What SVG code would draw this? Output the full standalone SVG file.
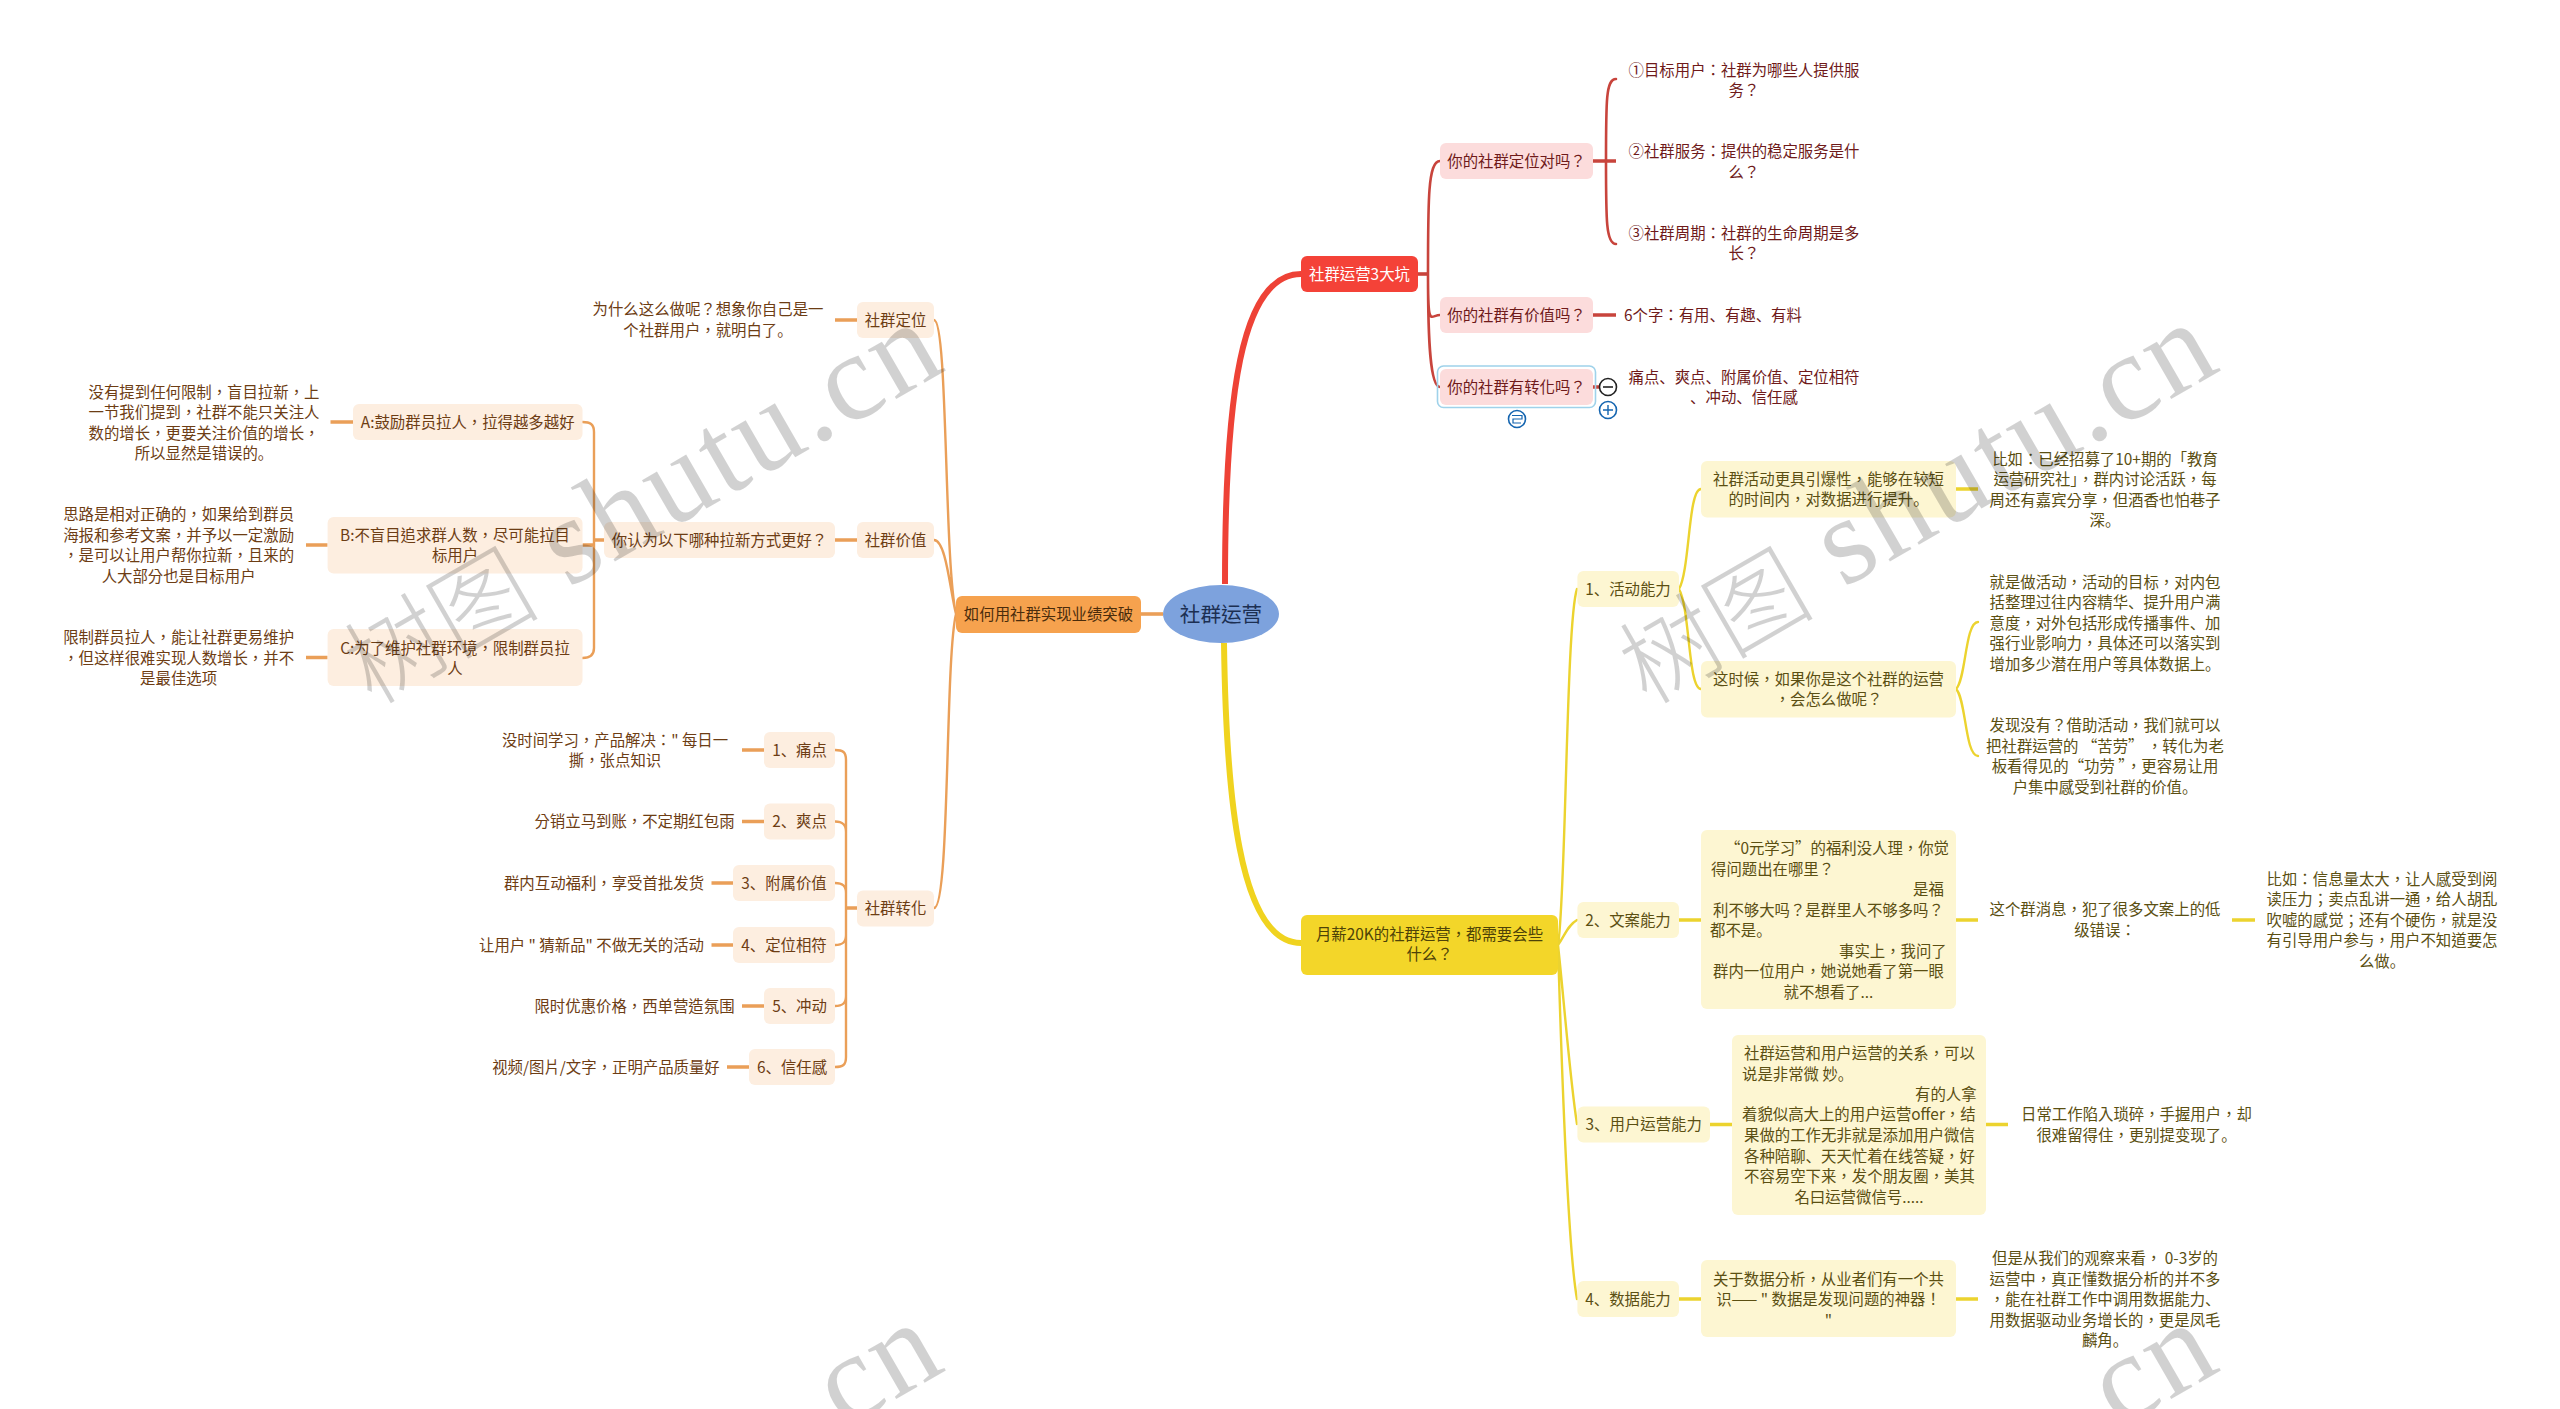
<svg xmlns="http://www.w3.org/2000/svg" width="2560" height="1409" viewBox="0 0 2560 1409">
<style>
text{font-family:"Noto Sans CJK TC","Noto Sans CJK SC","Noto Sans",sans-serif;font-size:15.4px;dominant-baseline:central}
text:not(.wm):not(.wc){transform:translateY(-1.4px)}
.s{font-family:"Noto Sans CJK SC","Noto Sans",sans-serif}
.m{text-anchor:middle}
.r{fill:#6f1a1a}.o{fill:#6d3d14}.y{fill:#5b4f12}
.br{fill:#fcdcdc}.bo{fill:#fdeee0}.by{fill:#fdf6d2}
.cr,.co,.cy{fill:none;stroke-linecap:round}
.cr{stroke:#c8443c;stroke-width:2.6}.co{stroke:#ea9f58;stroke-width:2.4}.cy{stroke:#ecd32f;stroke-width:2.4}
.t{stroke-width:3.6;stroke-linecap:butt}
.wm{fill:#000;fill-opacity:.18;font-family:"Liberation Serif",serif;font-size:124px;letter-spacing:3px;dominant-baseline:auto;text-anchor:end}
.wc{fill:#000;fill-opacity:.18;font-family:"Noto Sans CJK SC",sans-serif;font-size:98px;font-weight:300;dominant-baseline:auto}
.ic{fill:#fff;stroke:#1565b0;stroke-width:1.6}
</style>
<rect width="2560" height="1409" fill="#fff"/>
<g id="connectors">
<path d="M1225 584C1225 400 1240 274 1301 274" fill="none" stroke="#ee4236" stroke-width="6"/>
<path d="M1224 643C1226 790 1238 943 1301 943" fill="none" stroke="#f0d31f" stroke-width="6"/>
<path class="co t" d="M1141 614H1163"/>
<path class="cr t" d="M1418 274H1428"/>
<path class="cr" d="M1428 274C1428 200 1428 161 1440 161M1428 274C1428 330 1430 315 1440 315M1428 274C1428 340 1430 387 1440 387"/>
<path class="cr t" d="M1593 161H1616M1593 315H1616M1593 387H1600"/>
<path class="cr" d="M1606 161C1606 100 1606 79 1616 79M1606 161C1606 220 1606 244 1616 244"/>
<path class="co" d="M956 614C944 560 948 320 934 320M956 614C950 590 946 540 934 540M956 614C945 660 950 908 934 908"/>
<path class="co t" d="M835 320H857M835 540H857M582.5 545H594M594 540H604M330.5 422H353M306 545H327.6M306 657.5H327.6M846 908H857"/>
<path class="co t" d="M742 750H764M742 821.5H764M711.5 883H733M711.5 945H733M742 1006H764M727 1067H749"/>
<path class="co" d="M582.5 422C590 422 594 424 594 432V648C594 655 590 658 582.5 658"/>
<path class="co" d="M835 750C843 750 846 752 846 760V1057C846 1065 843 1067 835 1067M835 821.5C843 821.5 846 825 846 832M835 883C843 883 846 886 846 893M835 945C843 945 846 942 846 935M835 1006C843 1006 846 1003 846 996"/>
<path class="cy" d="M1558 945C1566 900 1566 620 1577 589M1558 945C1565 935 1568 925 1577 920M1558 945C1564 1000 1570 1080 1577 1124M1558 945C1562 1080 1568 1250 1577 1299"/>
<path class="cy" d="M1679 589C1690 570 1688 489 1701 489M1679 589C1690 608 1688 689 1701 689M1956 689C1966 680 1965 622 1978 622M1956 689C1966 698 1965 756 1978 756"/>
<path class="cy t" d="M1956 489H1978M1679 920H1701M1956 920H1978M2232 920H2255M1710 1124.5H1732M1986 1124.5H2008M1679 1299H1701M1956 1299H1978"/>
</g>
<g id="root"><ellipse cx="1221" cy="614" rx="58" ry="29" fill="#7da2dd"/><text class="m" x="1221" y="614" style="font-size:20.6px;fill:#1c2f52">社群运营</text></g>
<g id="red-main"><rect x="1301" y="256" width="117" height="36" rx="6" fill="#f44238"/><text class="m" x="1359.5" y="274" fill="#fff">社群运营3大坑</text></g>
<g id="q1"><rect class="br" x="1440" y="143" width="153" height="36" rx="6"/><text class="m r" x="1516.5" y="161">你的社群定位对吗？</text></g>
<g id="q2"><rect class="br" x="1440" y="297" width="153" height="36" rx="6"/><text class="m r" x="1516.5" y="315">你的社群有价值吗？</text></g>
<g id="q3"><rect x="1437.5" y="366" width="158" height="41.500" rx="6" fill="none" stroke="#9fd2ea" stroke-width="1.6"/><rect class="br" x="1440" y="369" width="153" height="36" rx="6"/><text class="m r" x="1516.5" y="387">你的社群有转化吗？</text></g>
<g id="icon-minus"><circle cx="1608" cy="387" r="8.500" fill="#fff" stroke="#222" stroke-width="1.6"/><path d="M1603 387H1613" stroke="#222" stroke-width="1.6"/></g>
<g id="icon-plus"><circle class="ic" cx="1608" cy="410" r="8.500"/><path d="M1603 410H1613M1608 405V415" stroke="#1565b0" stroke-width="1.4"/></g>
<g id="icon-note"><circle class="ic" cx="1517" cy="419" r="8.500"/><path d="M1512 415.500H1522V419H1513V423H1521" fill="none" stroke="#1565b0" stroke-width="1.2"/></g>
<g id="r1"><text class="m r" x="1744" y="70">①目标用户：社群为哪些人提供服</text><text class="m r" x="1744" y="90">务？</text></g>
<g id="r2"><text class="m r" x="1744" y="151.500">②社群服务：提供的稳定服务是什</text><text class="m r" x="1744" y="172">么？</text></g>
<g id="r3"><text class="m r" x="1744" y="233">③社群周期：社群的生命周期是多</text><text class="m r" x="1744" y="253.500">长？</text></g>
<g id="r4"><text class="r" x="1624" y="315">6个字：有用<tspan class="s">、</tspan>有趣<tspan class="s">、</tspan>有料</text></g>
<g id="r5"><text class="m r" x="1744" y="377">痛点<tspan class="s">、</tspan>爽点<tspan class="s">、</tspan>附属价值<tspan class="s">、</tspan>定位相符</text><text class="m r" x="1744" y="397.500"><tspan class="s">、</tspan>冲动<tspan class="s">、</tspan>信任感</text></g>

<g id="orange-main"><rect x="956" y="596" width="185" height="37" rx="6" fill="#f6a24e"/><text class="m" x="1048.500" y="614" fill="#4a2c0c">如何用社群实现业绩突破</text></g>
<g id="o1"><rect class="bo" x="857" y="302" width="77" height="36" rx="6"/><text class="m o" x="895.500" y="320">社群定位</text></g>
<g id="o1a"><text class="m o" x="708" y="309">为什么这么做呢？想象你自己是一</text><text class="m o" x="708" y="330">个社群用户，就明白了<tspan class="s">。</tspan></text></g>
<g id="o2"><rect class="bo" x="857" y="522" width="77" height="36" rx="6"/><text class="m o" x="895.500" y="540">社群价值</text></g>
<g id="o2a"><rect class="bo" x="604" y="522" width="231" height="36" rx="6"/><text class="m o" x="719.500" y="540">你认为以下哪种拉新方式更好？</text></g>
<g id="oA"><rect class="bo" x="353" y="404" width="229.500" height="36" rx="6"/><text class="m o" x="467.700" y="422">A:鼓励群员拉人，拉得越多越好</text></g>
<g id="oA1"><text class="m o" x="204" y="392">没有提到任何限制，盲目拉新，上</text><text class="m o" x="204" y="412">一节我们提到，社群不能只关注人</text><text class="m o" x="204" y="433">数的增长，更要关注价值的增长，</text><text class="m o" x="204" y="453">所以显然是错误的<tspan class="s">。</tspan></text></g>
<g id="oB"><rect class="bo" x="327.600" y="517" width="254.900" height="56.500" rx="6"/><text class="m o" x="455" y="535">B:不盲目追求群人数，尽可能拉目</text><text class="m o" x="455" y="555">标用户</text></g>
<g id="oB1"><text class="m o" x="178.600" y="514">思路是相对正确的，如果给到群员</text><text class="m o" x="178.600" y="535">海报和参考文案，并予以一定激励</text><text class="m o" x="178.600" y="555">，是可以让用户帮你拉新，且来的</text><text class="m o" x="178.600" y="576">人大部分也是目标用户</text></g>
<g id="oC"><rect class="bo" x="327.600" y="629" width="254.900" height="57" rx="6"/><text class="m o" x="455" y="648">C:为了维护社群环境，限制群员拉</text><text class="m o" x="455" y="668">人</text></g>
<g id="oC1"><text class="m o" x="178.600" y="637">限制群员拉人，能让社群更易维护</text><text class="m o" x="178.600" y="658">，但这样很难实现人数增长，并不</text><text class="m o" x="178.600" y="678">是最佳选项</text></g>
<g id="o3"><rect class="bo" x="857" y="890.500" width="77" height="36" rx="6"/><text class="m o" x="895.500" y="908.500">社群转化</text></g>
<g id="o31"><rect class="bo" x="764" y="732" width="71" height="36" rx="6"/><text class="m o" x="799.500" y="750">1<tspan class="s">、</tspan>痛点</text></g>
<g id="o32"><rect class="bo" x="764" y="803.500" width="71" height="36" rx="6"/><text class="m o" x="799.500" y="821.500">2<tspan class="s">、</tspan>爽点</text></g>
<g id="o33"><rect class="bo" x="733" y="865" width="102" height="36" rx="6"/><text class="m o" x="784" y="883">3<tspan class="s">、</tspan>附属价值</text></g>
<g id="o34"><rect class="bo" x="733" y="927" width="102" height="36" rx="6"/><text class="m o" x="784" y="945">4<tspan class="s">、</tspan>定位相符</text></g>
<g id="o35"><rect class="bo" x="764" y="988" width="71" height="36" rx="6"/><text class="m o" x="799.500" y="1006">5<tspan class="s">、</tspan>冲动</text></g>
<g id="o36"><rect class="bo" x="749" y="1049" width="86" height="36" rx="6"/><text class="m o" x="792" y="1067">6<tspan class="s">、</tspan>信任感</text></g>
<g id="o31a"><text class="m o" x="615" y="740">没时间学习，产品解决：" 每日一</text><text class="m o" x="615" y="760">撕，张点知识</text></g>
<g id="o32a"><text class="m o" x="634.500" y="821.500">分销立马到账，不定期红包雨</text></g>
<g id="o33a"><text class="m o" x="604" y="883">群内互动福利，享受首批发货</text></g>
<g id="o34a"><text class="m o" x="591.500" y="945">让用户 " 猜新品" 不做无关的活动</text></g>
<g id="o35a"><text class="m o" x="634.500" y="1006">限时优惠价格，西单营造氛围</text></g>
<g id="o36a"><text class="m o" x="606" y="1067">视频/图片/文字，正明产品质量好</text></g>

<g id="yellow-main"><rect x="1301" y="915" width="257" height="60" rx="6" fill="#f3d629"/><text class="m" x="1429.500" y="934" fill="#4d4208">月薪20K的社群运营，都需要会些</text><text class="m" x="1429.500" y="954" fill="#4d4208">什么？</text></g>
<g id="y1"><rect class="by" x="1577.400" y="571" width="101.600" height="36" rx="6"/><text class="m y" x="1628" y="589">1<tspan class="s">、</tspan>活动能力</text></g>
<g id="y1a"><rect class="by" x="1701" y="461" width="255" height="56.500" rx="6"/><text class="m y" x="1828.500" y="479">社群活动更具引爆性，能够在较短</text><text class="m y" x="1828.500" y="499">的时间内，对数据进行提升<tspan class="s">。</tspan></text></g>
<g id="y1a1"><text class="m y" x="2105" y="459">比如：已经招募了10+期的<tspan class="s">「</tspan>教育</text><text class="m y" x="2105" y="479">运营研究社<tspan class="s">」</tspan>，群内讨论活跃，每</text><text class="m y" x="2105" y="500">周还有嘉宾分享，但酒香也怕巷子</text><text class="m y" x="2105" y="520">深<tspan class="s">。</tspan></text></g>
<g id="y1b"><rect class="by" x="1701" y="661" width="255" height="56.500" rx="6"/><text class="m y" x="1828.500" y="679">这时候，如果你是这个社群的运营</text><text class="m y" x="1828.500" y="699">，会怎么做呢？</text></g>
<g id="y1b1"><text class="m y" x="2105" y="582">就是做活动，活动的目标，对内包</text><text class="m y" x="2105" y="602">括整理过往内容精华<tspan class="s">、</tspan>提升用户满</text><text class="m y" x="2105" y="623">意度，对外包括形成传播事件<tspan class="s">、</tspan>加</text><text class="m y" x="2105" y="643">强行业影响力，具体还可以落实到</text><text class="m y" x="2105" y="664">增加多少潜在用户等具体数据上<tspan class="s">。</tspan></text></g>
<g id="y1b2"><text class="m y" x="2105" y="725">发现没有？借助活动，我们就可以</text><text class="m y" x="2105" y="746">把社群运营的 “苦劳” ，转化为老</text><text class="m y" x="2105" y="766">板看得见的“功劳 ”，更容易让用</text><text class="m y" x="2105" y="787">户集中感受到社群的价值<tspan class="s">。</tspan></text></g>
<g id="y2"><rect class="by" x="1577.400" y="902" width="101.600" height="36" rx="6"/><text class="m y" x="1628" y="920">2<tspan class="s">、</tspan>文案能力</text></g>
<g id="y2a"><rect class="by" x="1701" y="830" width="255" height="179" rx="6"/><text class="y" x="1725" y="848">“0元学习”的福利没人理，你觉</text><text class="y" x="1711" y="869">得问题出在哪里？</text><text class="y" x="1913" y="889">是福</text><text class="y" x="1713" y="910">利不够大吗？是群里人不够多吗？</text><text class="y" x="1710" y="930">都不是<tspan class="s">。</tspan></text><text class="y" x="1839" y="951">事实上，我问了</text><text class="y" x="1713" y="971">群内一位用户，她说她看了第一眼</text><text class="m y" x="1828.500" y="992">就不想看了...</text></g>
<g id="y2a1"><text class="m y" x="2105" y="909">这个群消息，犯了很多文案上的低</text><text class="m y" x="2105" y="930">级错误：</text></g>
<g id="y2a2"><text class="m y" x="2382" y="879">比如：信息量太大，让人感受到阅</text><text class="m y" x="2382" y="899">读压力；卖点乱讲一通，给人胡乱</text><text class="m y" x="2382" y="920">吹嘘的感觉；还有个硬伤，就是没</text><text class="m y" x="2382" y="940">有引导用户参与，用户不知道要怎</text><text class="m y" x="2382" y="961">么做<tspan class="s">。</tspan></text></g>
<g id="y3"><rect class="by" x="1577.400" y="1106.500" width="132.600" height="36" rx="6"/><text class="m y" x="1643.700" y="1124.500">3<tspan class="s">、</tspan>用户运营能力</text></g>
<g id="y3a"><rect class="by" x="1732" y="1035" width="254" height="180" rx="6"/><text class="y" x="1744" y="1053">社群运营和用户运营的关系，可以</text><text class="y" x="1742" y="1074">说是非常微 妙<tspan class="s">。</tspan></text><text class="y" x="1915" y="1094">有的人拿</text><text class="y" x="1742" y="1114">着貌似高大上的用户运营offer，结</text><text class="y" x="1744" y="1135">果做的工作无非就是添加用户微信</text><text class="y" x="1744" y="1156">各种陪聊<tspan class="s">、</tspan>天天忙着在线答疑，好</text><text class="y" x="1744" y="1176">不容易空下来，发个朋友圈，美其</text><text class="m y" x="1859" y="1197">名曰运营微信号.....</text></g>
<g id="y3a1"><text class="m y" x="2136.500" y="1114">日常工作陷入琐碎，手握用户，却</text><text class="m y" x="2136.500" y="1135">很难留得住，更别提变现了<tspan class="s">。</tspan></text></g>
<g id="y4"><rect class="by" x="1577.400" y="1281" width="101.600" height="36" rx="6"/><text class="m y" x="1628" y="1299">4<tspan class="s">、</tspan>数据能力</text></g>
<g id="y4a"><rect class="by" x="1701" y="1260" width="255" height="77" rx="6"/><text class="m y" x="1828.500" y="1279">关于数据分析，从业者们有一个共</text><text class="m y" x="1828.500" y="1299">识—— " 数据是发现问题的神器！</text><text class="m y" x="1828.500" y="1320">"</text></g>
<g id="y4a1"><text class="m y" x="2105" y="1258">但是从我们的观察来看， 0-3岁的</text><text class="m y" x="2105" y="1279">运营中，真正懂数据分析的并不多</text><text class="m y" x="2105" y="1299">，能在社群工作中调用数据能力<tspan class="s">、</tspan></text><text class="m y" x="2105" y="1320">用数据驱动业务增长的，更是凤毛</text><text class="m y" x="2105" y="1340">麟角<tspan class="s">。</tspan></text></g>

<g id="watermark">
<text class="wc" transform="translate(372 706) rotate(-30)">树图</text>
<text class="wm" transform="translate(950 368) rotate(-30)">shutu.cn</text>
<text class="wc" transform="translate(1647 706) rotate(-30)">树图</text>
<text class="wm" transform="translate(2225 368) rotate(-30)">shutu.cn</text>
<text class="wm" transform="translate(950 1368) rotate(-30)">cn</text>
<text class="wm" transform="translate(2225 1368) rotate(-30)">cn</text>
</g>
</svg>
